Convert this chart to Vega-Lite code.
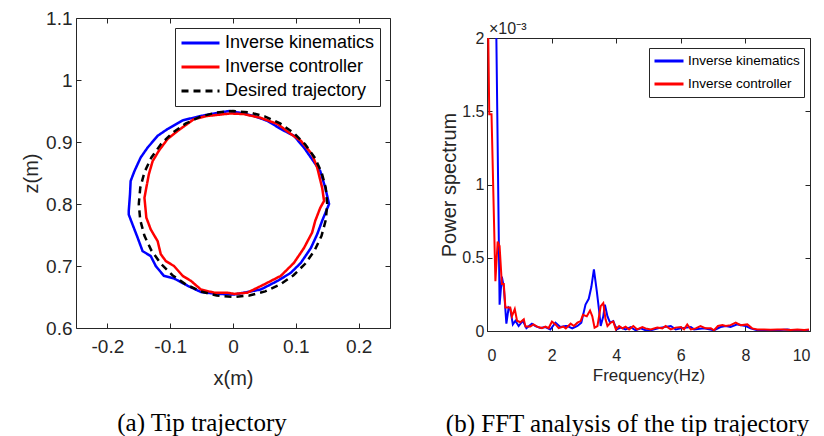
{
  "$schema": "https://vega.github.io/schema/vega-lite/v6.json",
  "padding": {"left": 21, "top": 8, "right": 5, "bottom": 0},
  "background": "white",
  "config": {
    "view": {"stroke": "#262626", "strokeWidth": 1},
    "concat": {"spacing": 48},
    "axis": {"grid": false, "domain": false, "tickSize": -5, "tickColor": "#262626", "labelColor": "#262626", "titleColor": "#262626", "titleFontWeight": "normal", "domainColor": "#262626", "domainWidth": 1}
  },
  "resolve": {"scale": {"color": "independent", "strokeDash": "independent"}, "legend": {"color": "independent", "strokeDash": "independent"}},
  "hconcat": [
    {
      "width": 314,
      "height": 310,
      "title": {"text": "(a) Tip trajectory", "orient": "bottom", "anchor": "middle", "font": "Liberation Serif", "fontSize": 25, "fontWeight": "normal", "color": "#000000", "offset": 23, "dx": -31},
      "layer": [
        {
          "data": {"values": [
            {"series": "Inverse kinematics", "i": 1, "x": -0.006, "z": 0.950},
            {"series": "Inverse kinematics", "i": 2, "x": -0.030, "z": 0.946},
            {"series": "Inverse kinematics", "i": 3, "x": -0.051, "z": 0.942},
            {"series": "Inverse kinematics", "i": 4, "x": -0.080, "z": 0.935},
            {"series": "Inverse kinematics", "i": 5, "x": -0.104, "z": 0.921},
            {"series": "Inverse kinematics", "i": 6, "x": -0.120, "z": 0.910},
            {"series": "Inverse kinematics", "i": 7, "x": -0.136, "z": 0.891},
            {"series": "Inverse kinematics", "i": 8, "x": -0.147, "z": 0.875},
            {"series": "Inverse kinematics", "i": 9, "x": -0.157, "z": 0.853},
            {"series": "Inverse kinematics", "i": 10, "x": -0.163, "z": 0.837},
            {"series": "Inverse kinematics", "i": 11, "x": -0.164, "z": 0.816},
            {"series": "Inverse kinematics", "i": 12, "x": -0.166, "z": 0.789},
            {"series": "Inverse kinematics", "i": 13, "x": -0.166, "z": 0.783},
            {"series": "Inverse kinematics", "i": 14, "x": -0.160, "z": 0.767},
            {"series": "Inverse kinematics", "i": 15, "x": -0.152, "z": 0.746},
            {"series": "Inverse kinematics", "i": 16, "x": -0.144, "z": 0.724},
            {"series": "Inverse kinematics", "i": 17, "x": -0.131, "z": 0.716},
            {"series": "Inverse kinematics", "i": 18, "x": -0.123, "z": 0.700},
            {"series": "Inverse kinematics", "i": 19, "x": -0.110, "z": 0.684},
            {"series": "Inverse kinematics", "i": 20, "x": -0.094, "z": 0.680},
            {"series": "Inverse kinematics", "i": 21, "x": -0.072, "z": 0.668},
            {"series": "Inverse kinematics", "i": 22, "x": -0.051, "z": 0.658},
            {"series": "Inverse kinematics", "i": 23, "x": -0.025, "z": 0.655},
            {"series": "Inverse kinematics", "i": 24, "x": 0.002, "z": 0.654},
            {"series": "Inverse kinematics", "i": 25, "x": 0.023, "z": 0.658},
            {"series": "Inverse kinematics", "i": 26, "x": 0.044, "z": 0.662},
            {"series": "Inverse kinematics", "i": 27, "x": 0.071, "z": 0.676},
            {"series": "Inverse kinematics", "i": 28, "x": 0.092, "z": 0.689},
            {"series": "Inverse kinematics", "i": 29, "x": 0.108, "z": 0.705},
            {"series": "Inverse kinematics", "i": 30, "x": 0.124, "z": 0.729},
            {"series": "Inverse kinematics", "i": 31, "x": 0.134, "z": 0.751},
            {"series": "Inverse kinematics", "i": 32, "x": 0.142, "z": 0.773},
            {"series": "Inverse kinematics", "i": 33, "x": 0.153, "z": 0.800},
            {"series": "Inverse kinematics", "i": 34, "x": 0.147, "z": 0.826},
            {"series": "Inverse kinematics", "i": 35, "x": 0.139, "z": 0.853},
            {"series": "Inverse kinematics", "i": 36, "x": 0.124, "z": 0.875},
            {"series": "Inverse kinematics", "i": 37, "x": 0.113, "z": 0.891},
            {"series": "Inverse kinematics", "i": 38, "x": 0.097, "z": 0.910},
            {"series": "Inverse kinematics", "i": 39, "x": 0.076, "z": 0.921},
            {"series": "Inverse kinematics", "i": 40, "x": 0.055, "z": 0.934},
            {"series": "Inverse kinematics", "i": 41, "x": 0.033, "z": 0.942},
            {"series": "Inverse kinematics", "i": 42, "x": 0.012, "z": 0.947},
            {"series": "Inverse kinematics", "i": 43, "x": -0.006, "z": 0.950},
            {"series": "Inverse controller", "i": 1, "x": -0.004, "z": 0.946},
            {"series": "Inverse controller", "i": 2, "x": -0.041, "z": 0.942},
            {"series": "Inverse controller", "i": 3, "x": -0.062, "z": 0.937},
            {"series": "Inverse controller", "i": 4, "x": -0.088, "z": 0.918},
            {"series": "Inverse controller", "i": 5, "x": -0.104, "z": 0.905},
            {"series": "Inverse controller", "i": 6, "x": -0.118, "z": 0.886},
            {"series": "Inverse controller", "i": 7, "x": -0.128, "z": 0.869},
            {"series": "Inverse controller", "i": 8, "x": -0.134, "z": 0.848},
            {"series": "Inverse controller", "i": 9, "x": -0.139, "z": 0.821},
            {"series": "Inverse controller", "i": 10, "x": -0.141, "z": 0.810},
            {"series": "Inverse controller", "i": 11, "x": -0.139, "z": 0.789},
            {"series": "Inverse controller", "i": 12, "x": -0.138, "z": 0.778},
            {"series": "Inverse controller", "i": 13, "x": -0.131, "z": 0.759},
            {"series": "Inverse controller", "i": 14, "x": -0.120, "z": 0.740},
            {"series": "Inverse controller", "i": 15, "x": -0.115, "z": 0.719},
            {"series": "Inverse controller", "i": 16, "x": -0.107, "z": 0.708},
            {"series": "Inverse controller", "i": 17, "x": -0.094, "z": 0.700},
            {"series": "Inverse controller", "i": 18, "x": -0.080, "z": 0.684},
            {"series": "Inverse controller", "i": 19, "x": -0.067, "z": 0.676},
            {"series": "Inverse controller", "i": 20, "x": -0.051, "z": 0.662},
            {"series": "Inverse controller", "i": 21, "x": -0.030, "z": 0.657},
            {"series": "Inverse controller", "i": 22, "x": -0.009, "z": 0.657},
            {"series": "Inverse controller", "i": 23, "x": 0.002, "z": 0.655},
            {"series": "Inverse controller", "i": 24, "x": 0.023, "z": 0.657},
            {"series": "Inverse controller", "i": 25, "x": 0.049, "z": 0.670},
            {"series": "Inverse controller", "i": 26, "x": 0.076, "z": 0.684},
            {"series": "Inverse controller", "i": 27, "x": 0.097, "z": 0.705},
            {"series": "Inverse controller", "i": 28, "x": 0.113, "z": 0.729},
            {"series": "Inverse controller", "i": 29, "x": 0.126, "z": 0.754},
            {"series": "Inverse controller", "i": 30, "x": 0.131, "z": 0.773},
            {"series": "Inverse controller", "i": 31, "x": 0.139, "z": 0.794},
            {"series": "Inverse controller", "i": 32, "x": 0.145, "z": 0.805},
            {"series": "Inverse controller", "i": 33, "x": 0.142, "z": 0.826},
            {"series": "Inverse controller", "i": 34, "x": 0.134, "z": 0.859},
            {"series": "Inverse controller", "i": 35, "x": 0.126, "z": 0.880},
            {"series": "Inverse controller", "i": 36, "x": 0.108, "z": 0.902},
            {"series": "Inverse controller", "i": 37, "x": 0.092, "z": 0.913},
            {"series": "Inverse controller", "i": 38, "x": 0.071, "z": 0.929},
            {"series": "Inverse controller", "i": 39, "x": 0.044, "z": 0.939},
            {"series": "Inverse controller", "i": 40, "x": 0.017, "z": 0.945},
            {"series": "Inverse controller", "i": 41, "x": -0.004, "z": 0.946},
            {"series": "Desired trajectory", "i": 1, "x": 0.15, "z": 0.8},
            {"series": "Desired trajectory", "i": 2, "x": 0.1477, "z": 0.8260},
            {"series": "Desired trajectory", "i": 3, "x": 0.1410, "z": 0.8513},
            {"series": "Desired trajectory", "i": 4, "x": 0.1299, "z": 0.875},
            {"series": "Desired trajectory", "i": 5, "x": 0.1149, "z": 0.8964},
            {"series": "Desired trajectory", "i": 6, "x": 0.0964, "z": 0.9149},
            {"series": "Desired trajectory", "i": 7, "x": 0.075, "z": 0.9299},
            {"series": "Desired trajectory", "i": 8, "x": 0.0513, "z": 0.9410},
            {"series": "Desired trajectory", "i": 9, "x": 0.026, "z": 0.9477},
            {"series": "Desired trajectory", "i": 10, "x": 0, "z": 0.95},
            {"series": "Desired trajectory", "i": 11, "x": -0.026, "z": 0.9477},
            {"series": "Desired trajectory", "i": 12, "x": -0.0513, "z": 0.9410},
            {"series": "Desired trajectory", "i": 13, "x": -0.075, "z": 0.9299},
            {"series": "Desired trajectory", "i": 14, "x": -0.0964, "z": 0.9149},
            {"series": "Desired trajectory", "i": 15, "x": -0.1149, "z": 0.8964},
            {"series": "Desired trajectory", "i": 16, "x": -0.1299, "z": 0.875},
            {"series": "Desired trajectory", "i": 17, "x": -0.1410, "z": 0.8513},
            {"series": "Desired trajectory", "i": 18, "x": -0.1477, "z": 0.8260},
            {"series": "Desired trajectory", "i": 19, "x": -0.15, "z": 0.8},
            {"series": "Desired trajectory", "i": 20, "x": -0.1477, "z": 0.7740},
            {"series": "Desired trajectory", "i": 21, "x": -0.1410, "z": 0.7487},
            {"series": "Desired trajectory", "i": 22, "x": -0.1299, "z": 0.725},
            {"series": "Desired trajectory", "i": 23, "x": -0.1149, "z": 0.7036},
            {"series": "Desired trajectory", "i": 24, "x": -0.0964, "z": 0.6851},
            {"series": "Desired trajectory", "i": 25, "x": -0.075, "z": 0.6701},
            {"series": "Desired trajectory", "i": 26, "x": -0.0513, "z": 0.6590},
            {"series": "Desired trajectory", "i": 27, "x": -0.026, "z": 0.6523},
            {"series": "Desired trajectory", "i": 28, "x": 0, "z": 0.65},
            {"series": "Desired trajectory", "i": 29, "x": 0.026, "z": 0.6523},
            {"series": "Desired trajectory", "i": 30, "x": 0.0513, "z": 0.6590},
            {"series": "Desired trajectory", "i": 31, "x": 0.075, "z": 0.6701},
            {"series": "Desired trajectory", "i": 32, "x": 0.0964, "z": 0.6851},
            {"series": "Desired trajectory", "i": 33, "x": 0.1149, "z": 0.7036},
            {"series": "Desired trajectory", "i": 34, "x": 0.1299, "z": 0.725},
            {"series": "Desired trajectory", "i": 35, "x": 0.1410, "z": 0.7487},
            {"series": "Desired trajectory", "i": 36, "x": 0.1477, "z": 0.7740},
            {"series": "Desired trajectory", "i": 37, "x": 0.15, "z": 0.8}
          ]},
          "mark": {"type": "line", "strokeWidth": 2.5, "clip": true},
          "encoding": {
            "x": {"field": "x", "type": "quantitative", "scale": {"domain": [-0.25, 0.25], "nice": false, "zero": false},
                  "axis": {"orient": "bottom", "values": [-0.2, -0.1, 0, 0.1, 0.2], "labelExpr": "replace(format(datum.value, '~g'), '−', '-')", "title": "x(m)", "labelFont": "Liberation Sans", "labelFontSize": 19, "labelPadding": 14, "titleFont": "Liberation Sans", "titleFontSize": 20, "titlePadding": 12}},
            "y": {"field": "z", "type": "quantitative", "scale": {"domain": [0.6, 1.1], "nice": false, "zero": false},
                  "axis": {"orient": "left", "values": [0.6, 0.7, 0.8, 0.9, 1, 1.1], "format": "~g", "title": "z(m)", "labelFont": "Liberation Sans", "labelFontSize": 19, "labelPadding": 9, "titleFont": "Liberation Sans", "titleFontSize": 20, "titlePadding": 4}},
            "color": {"field": "series", "type": "nominal",
                      "scale": {"domain": ["Inverse kinematics", "Inverse controller", "Desired trajectory"], "range": ["#0000ff", "#ff0000", "#000000"]},
                      "legend": {"title": null, "orient": "top-right", "offset": 10, "padding": 5, "strokeColor": "#262626", "fillColor": "white", "labelFont": "Liberation Sans", "labelFontSize": 18, "labelColor": "#000000", "symbolType": "stroke", "symbolSize": 1444, "symbolStrokeWidth": 3, "labelOffset": 4, "rowPadding": 4, "clipHeight": 20,
                                 "encode": {"symbols": {"update": {"strokeDash": {"signal": "datum.value === 'Desired trajectory' ? [7, 5] : [1, 0]"}}}}}},
            "strokeDash": {"field": "series", "type": "nominal",
                      "scale": {"domain": ["Inverse kinematics", "Inverse controller", "Desired trajectory"], "range": [[1, 0], [1, 0], [7, 5]]},
                      "legend": null},
            "order": {"field": "i", "type": "quantitative"}
          }
        },
        {
          "data": {"values": [{"x": -0.25, "z": 0.6}, {"x": 0.25, "z": 1.1}]},
          "mark": {"type": "point", "opacity": 0, "clip": true},
          "encoding": {
            "x": {"field": "x", "type": "quantitative", "axis": {"orient": "top", "values": [-0.2, -0.1, 0, 0.1, 0.2], "labels": false, "title": null}},
            "y": {"field": "z", "type": "quantitative", "axis": {"orient": "right", "values": [0.6, 0.7, 0.8, 0.9, 1, 1.1], "labels": false, "title": null}}
          }
        }
      ],
      "resolve": {"axis": {"x": "independent", "y": "independent"}}
    },
    {
      "width": 323,
      "height": 313,
      "view": {"stroke": null},
      "title": {"text": "(b) FFT analysis of the tip trajectory", "orient": "bottom", "anchor": "middle", "font": "Liberation Serif", "fontSize": 25, "fontWeight": "normal", "color": "#000000", "offset": 29, "dx": -21},
      "layer": [
        {
          "data": {"values": [
            {"series": "Inverse kinematics", "freq": 0.29, "power": 0.0025},
            {"series": "Inverse kinematics", "freq": 0.39, "power": 0.00018},
            {"series": "Inverse kinematics", "freq": 0.46, "power": 0.00037},
            {"series": "Inverse kinematics", "freq": 0.52, "power": 0.00030},
            {"series": "Inverse kinematics", "freq": 0.60, "power": 0.00005},
            {"series": "Inverse kinematics", "freq": 0.67, "power": 0.00016},
            {"series": "Inverse kinematics", "freq": 0.72, "power": 0.00015},
            {"series": "Inverse kinematics", "freq": 0.80, "power": 0.000045},
            {"series": "Inverse kinematics", "freq": 0.88, "power": 0.00007},
            {"series": "Inverse kinematics", "freq": 0.98, "power": 0.000034},
            {"series": "Inverse kinematics", "freq": 1.11, "power": 0.00007},
            {"series": "Inverse kinematics", "freq": 1.22, "power": 0.00002},
            {"series": "Inverse kinematics", "freq": 1.39, "power": 0.00005},
            {"series": "Inverse kinematics", "freq": 1.50, "power": 0.000034},
            {"series": "Inverse kinematics", "freq": 1.65, "power": 0.00002},
            {"series": "Inverse kinematics", "freq": 1.81, "power": 0.000027},
            {"series": "Inverse kinematics", "freq": 1.96, "power": 0.00001},
            {"series": "Inverse kinematics", "freq": 2.12, "power": 0.000057},
            {"series": "Inverse kinematics", "freq": 2.27, "power": 0.000027},
            {"series": "Inverse kinematics", "freq": 2.43, "power": 0.000034},
            {"series": "Inverse kinematics", "freq": 2.49, "power": 0.000034},
            {"series": "Inverse kinematics", "freq": 2.64, "power": 0.000018},
            {"series": "Inverse kinematics", "freq": 2.80, "power": 0.000034},
            {"series": "Inverse kinematics", "freq": 2.92, "power": 0.000057},
            {"series": "Inverse kinematics", "freq": 3.05, "power": 0.00018},
            {"series": "Inverse kinematics", "freq": 3.15, "power": 0.00022},
            {"series": "Inverse kinematics", "freq": 3.23, "power": 0.00030},
            {"series": "Inverse kinematics", "freq": 3.31, "power": 0.00042},
            {"series": "Inverse kinematics", "freq": 3.40, "power": 0.00027},
            {"series": "Inverse kinematics", "freq": 3.47, "power": 0.00014},
            {"series": "Inverse kinematics", "freq": 3.52, "power": 0.000034},
            {"series": "Inverse kinematics", "freq": 3.60, "power": 0.00010},
            {"series": "Inverse kinematics", "freq": 3.65, "power": 0.00018},
            {"series": "Inverse kinematics", "freq": 3.73, "power": 0.00010},
            {"series": "Inverse kinematics", "freq": 3.81, "power": 0.000057},
            {"series": "Inverse kinematics", "freq": 3.91, "power": 0.000068},
            {"series": "Inverse kinematics", "freq": 4.01, "power": 0.000011},
            {"series": "Inverse kinematics", "freq": 4.14, "power": 0.000023},
            {"series": "Inverse kinematics", "freq": 4.29, "power": 0.000011},
            {"series": "Inverse kinematics", "freq": 4.45, "power": 0.000027},
            {"series": "Inverse kinematics", "freq": 4.60, "power": 0.000005},
            {"series": "Inverse kinematics", "freq": 4.76, "power": 0.000018},
            {"series": "Inverse kinematics", "freq": 4.91, "power": 0.000005},
            {"series": "Inverse kinematics", "freq": 5.07, "power": 0.000005},
            {"series": "Inverse kinematics", "freq": 5.38, "power": 0.000023},
            {"series": "Inverse kinematics", "freq": 5.69, "power": 0.000034},
            {"series": "Inverse kinematics", "freq": 5.84, "power": 0.000011},
            {"series": "Inverse kinematics", "freq": 6.00, "power": 0.000018},
            {"series": "Inverse kinematics", "freq": 6.31, "power": 0.000027},
            {"series": "Inverse kinematics", "freq": 6.41, "power": 0.000011},
            {"series": "Inverse kinematics", "freq": 6.72, "power": 0.000018},
            {"series": "Inverse kinematics", "freq": 7.03, "power": 0.000005},
            {"series": "Inverse kinematics", "freq": 7.23, "power": 0.000027},
            {"series": "Inverse kinematics", "freq": 7.39, "power": 0.000034},
            {"series": "Inverse kinematics", "freq": 7.54, "power": 0.000027},
            {"series": "Inverse kinematics", "freq": 7.75, "power": 0.000045},
            {"series": "Inverse kinematics", "freq": 8.01, "power": 0.000034},
            {"series": "Inverse kinematics", "freq": 8.16, "power": 0.000018},
            {"series": "Inverse kinematics", "freq": 8.37, "power": 0.000005},
            {"series": "Inverse kinematics", "freq": 8.68, "power": 0.000005},
            {"series": "Inverse kinematics", "freq": 8.99, "power": 0.000005},
            {"series": "Inverse kinematics", "freq": 9.30, "power": 0.000011},
            {"series": "Inverse kinematics", "freq": 9.61, "power": 0.0},
            {"series": "Inverse kinematics", "freq": 9.82, "power": 0.000005},
            {"series": "Inverse kinematics", "freq": 9.97, "power": 0.000007},
            {"series": "Inverse controller", "freq": 0.04, "power": 0.008},
            {"series": "Inverse controller", "freq": 0.07, "power": 0.00148},
            {"series": "Inverse controller", "freq": 0.14, "power": 0.00148},
            {"series": "Inverse controller", "freq": 0.26, "power": 0.00034},
            {"series": "Inverse controller", "freq": 0.33, "power": 0.00061},
            {"series": "Inverse controller", "freq": 0.39, "power": 0.00058},
            {"series": "Inverse controller", "freq": 0.46, "power": 0.00032},
            {"series": "Inverse controller", "freq": 0.52, "power": 0.00032},
            {"series": "Inverse controller", "freq": 0.57, "power": 0.00016},
            {"series": "Inverse controller", "freq": 0.67, "power": 0.00016},
            {"series": "Inverse controller", "freq": 0.72, "power": 0.00016},
            {"series": "Inverse controller", "freq": 0.77, "power": 0.00010},
            {"series": "Inverse controller", "freq": 0.86, "power": 0.00015},
            {"series": "Inverse controller", "freq": 0.93, "power": 0.00007},
            {"series": "Inverse controller", "freq": 1.03, "power": 0.00006},
            {"series": "Inverse controller", "freq": 1.14, "power": 0.00008},
            {"series": "Inverse controller", "freq": 1.19, "power": 0.00003},
            {"series": "Inverse controller", "freq": 1.34, "power": 0.00003},
            {"series": "Inverse controller", "freq": 1.44, "power": 0.000045},
            {"series": "Inverse controller", "freq": 1.55, "power": 0.00003},
            {"series": "Inverse controller", "freq": 1.70, "power": 0.00002},
            {"series": "Inverse controller", "freq": 1.81, "power": 0.00003},
            {"series": "Inverse controller", "freq": 1.91, "power": 0.00002},
            {"series": "Inverse controller", "freq": 2.01, "power": 0.000064},
            {"series": "Inverse controller", "freq": 2.12, "power": 0.000045},
            {"series": "Inverse controller", "freq": 2.22, "power": 0.00002},
            {"series": "Inverse controller", "freq": 2.37, "power": 0.00003},
            {"series": "Inverse controller", "freq": 2.44, "power": 0.000018},
            {"series": "Inverse controller", "freq": 2.59, "power": 0.00005},
            {"series": "Inverse controller", "freq": 2.69, "power": 0.000034},
            {"series": "Inverse controller", "freq": 2.80, "power": 0.000057},
            {"series": "Inverse controller", "freq": 2.90, "power": 0.000068},
            {"series": "Inverse controller", "freq": 2.97, "power": 0.00011},
            {"series": "Inverse controller", "freq": 3.09, "power": 0.00010},
            {"series": "Inverse controller", "freq": 3.19, "power": 0.00014},
            {"series": "Inverse controller", "freq": 3.26, "power": 0.00010},
            {"series": "Inverse controller", "freq": 3.33, "power": 0.000023},
            {"series": "Inverse controller", "freq": 3.42, "power": 0.000034},
            {"series": "Inverse controller", "freq": 3.52, "power": 0.00017},
            {"series": "Inverse controller", "freq": 3.60, "power": 0.00019},
            {"series": "Inverse controller", "freq": 3.67, "power": 0.00008},
            {"series": "Inverse controller", "freq": 3.73, "power": 0.000034},
            {"series": "Inverse controller", "freq": 3.83, "power": 0.000057},
            {"series": "Inverse controller", "freq": 3.91, "power": 0.000064},
            {"series": "Inverse controller", "freq": 3.99, "power": 0.000011},
            {"series": "Inverse controller", "freq": 4.09, "power": 0.000034},
            {"series": "Inverse controller", "freq": 4.19, "power": 0.000018},
            {"series": "Inverse controller", "freq": 4.29, "power": 0.00003},
            {"series": "Inverse controller", "freq": 4.40, "power": 0.000011},
            {"series": "Inverse controller", "freq": 4.53, "power": 0.000034},
            {"series": "Inverse controller", "freq": 4.65, "power": 0.000011},
            {"series": "Inverse controller", "freq": 4.81, "power": 0.000027},
            {"series": "Inverse controller", "freq": 4.91, "power": 0.000018},
            {"series": "Inverse controller", "freq": 5.07, "power": 0.000011},
            {"series": "Inverse controller", "freq": 5.27, "power": 0.000023},
            {"series": "Inverse controller", "freq": 5.43, "power": 0.000018},
            {"series": "Inverse controller", "freq": 5.53, "power": 0.000034},
            {"series": "Inverse controller", "freq": 5.69, "power": 0.000011},
            {"series": "Inverse controller", "freq": 5.84, "power": 0.000023},
            {"series": "Inverse controller", "freq": 6.00, "power": 0.000027},
            {"series": "Inverse controller", "freq": 6.10, "power": 0.000011},
            {"series": "Inverse controller", "freq": 6.20, "power": 0.000045},
            {"series": "Inverse controller", "freq": 6.31, "power": 0.000011},
            {"series": "Inverse controller", "freq": 6.46, "power": 0.000018},
            {"series": "Inverse controller", "freq": 6.61, "power": 0.000034},
            {"series": "Inverse controller", "freq": 6.77, "power": 0.000018},
            {"series": "Inverse controller", "freq": 6.93, "power": 0.000018},
            {"series": "Inverse controller", "freq": 7.03, "power": 0.000005},
            {"series": "Inverse controller", "freq": 7.15, "power": 0.000034},
            {"series": "Inverse controller", "freq": 7.29, "power": 0.00004},
            {"series": "Inverse controller", "freq": 7.39, "power": 0.000034},
            {"series": "Inverse controller", "freq": 7.54, "power": 0.00004},
            {"series": "Inverse controller", "freq": 7.70, "power": 0.000057},
            {"series": "Inverse controller", "freq": 7.85, "power": 0.00004},
            {"series": "Inverse controller", "freq": 8.06, "power": 0.000045},
            {"series": "Inverse controller", "freq": 8.21, "power": 0.000018},
            {"series": "Inverse controller", "freq": 8.37, "power": 0.000011},
            {"series": "Inverse controller", "freq": 8.58, "power": 0.000011},
            {"series": "Inverse controller", "freq": 8.78, "power": 0.000009},
            {"series": "Inverse controller", "freq": 8.99, "power": 0.000011},
            {"series": "Inverse controller", "freq": 9.19, "power": 0.000011},
            {"series": "Inverse controller", "freq": 9.40, "power": 0.000007},
            {"series": "Inverse controller", "freq": 9.61, "power": 0.000011},
            {"series": "Inverse controller", "freq": 9.82, "power": 0.000007},
            {"series": "Inverse controller", "freq": 9.97, "power": 0.000011}
          ]},
          "mark": {"type": "line", "strokeWidth": 2, "clip": true},
          "encoding": {
            "x": {"field": "freq", "type": "quantitative", "scale": {"domain": [0, 10], "nice": false},
                  "axis": {"orient": "bottom", "domain": true, "values": [0, 2, 4, 6, 8, 10], "title": "Frequency(Hz)", "labelFont": "Liberation Sans", "labelFontSize": 16, "labelPadding": 21, "titleFont": "Liberation Sans", "titleFontSize": 17, "titlePadding": 4}},
            "y": {"field": "power", "type": "quantitative", "scale": {"domain": [0, 0.002], "range": [313, 20], "clamp": true, "nice": false, "zero": false},
                  "axis": {"orient": "left", "domain": true, "values": [0, 0.0005, 0.001, 0.0015, 0.002], "labelExpr": "format(datum.value * 1000, '~g')", "title": "Power spectrum", "titleY": 166.5, "labelFont": "Liberation Sans", "labelFontSize": 16, "labelPadding": 8, "titleFont": "Liberation Sans", "titleFontSize": 20, "titlePadding": 2}},
            "color": {"field": "series", "type": "nominal",
                      "scale": {"domain": ["Inverse kinematics", "Inverse controller"], "range": ["#0000ff", "#ff0000"]},
                      "legend": {"title": null, "orient": "none", "legendX": 162, "legendY": 30, "padding": 4, "strokeColor": "#262626", "fillColor": "white", "labelFont": "Liberation Sans", "labelFontSize": 13.5, "labelColor": "#000000", "symbolType": "stroke", "symbolSize": 841, "symbolStrokeWidth": 3, "labelOffset": 3, "rowPadding": 5, "clipHeight": 18}}
          }
        },
        {
          "data": {"values": [{"freq": 0, "power": 0}, {"freq": 10, "power": 0.002}]},
          "mark": {"type": "point", "opacity": 0, "clip": true},
          "encoding": {
            "x": {"field": "freq", "type": "quantitative", "axis": {"orient": "top", "offset": -20, "domain": true, "values": [0, 2, 4, 6, 8, 10], "labels": false, "title": null}},
            "y": {"field": "power", "type": "quantitative", "axis": {"orient": "right", "domain": true, "values": [0, 0.0005, 0.001, 0.0015, 0.002], "labels": false, "title": null}}
          }
        },
        {
          "data": {"values": [{}]},
          "mark": {"type": "text", "text": "×10⁻³", "align": "left", "baseline": "bottom", "dx": 2, "dy": -1, "font": "Liberation Sans", "fontSize": 16, "color": "#262626"},
          "encoding": {
            "x": {"datum": 0, "type": "quantitative", "axis": null},
            "y": {"datum": 0.002, "type": "quantitative", "axis": null}
          }
        }
      ],
      "resolve": {"axis": {"x": "independent", "y": "independent"}}
    }
  ]
}
